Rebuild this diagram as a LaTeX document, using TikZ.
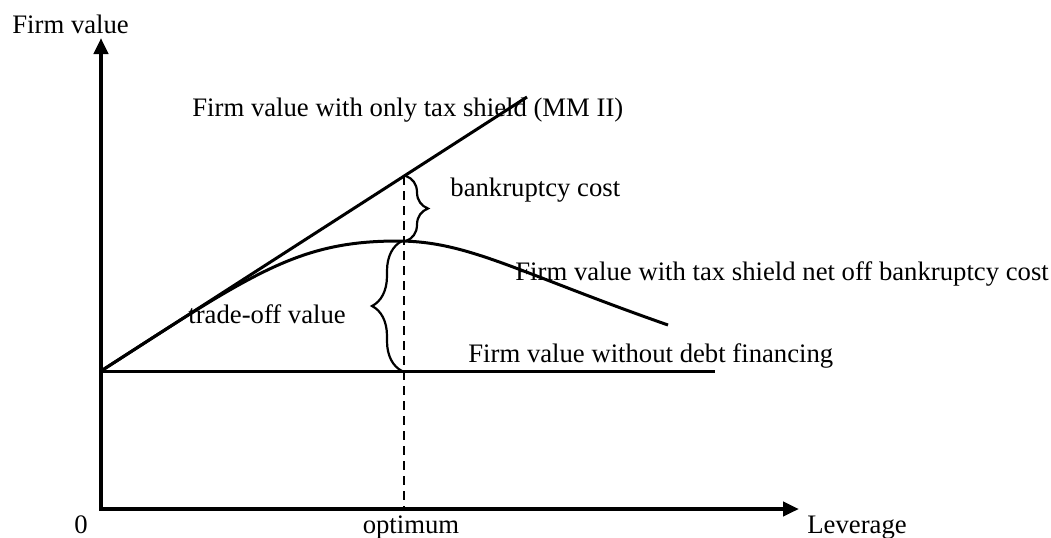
\documentclass[tikz,border=0pt]{standalone}
\usepackage{fontspec}
\setmainfont{Liberation Serif}
\usetikzlibrary{arrows.meta,decorations.pathreplacing}
\begin{document}
\begin{tikzpicture}[x=0.5pt,y=-0.5pt,
  lbl/.style={font=\fontsize{13.35}{16}\selectfont, inner sep=0pt, anchor=base west},
  axisline/.style={line width=2pt, {Triangle[length=8pt,width=7pt]}-{Triangle[length=8pt,width=7pt]}},
  plotline/.style={line width=1.5pt},
  brc/.style={line width=1.1pt, decorate, decoration={brace, amplitude=#1}},
  guide/.style={line width=1.2pt, dash pattern=on 4.5pt off 3pt}]
\path[use as bounding box] (0,0) rectangle (1051,537);
% coordinates
\coordinate (O) at (101,509);
\coordinate (Ytip) at (101,38);
\coordinate (Xtip) at (799,509);
\coordinate (B) at (101,371);
\coordinate (Bend) at (715,371);
\coordinate (Mend) at (527,97);
\coordinate (Peak) at (398,241);
\coordinate (Cend) at (668,325);
\coordinate (Dtop) at (404,176);
\coordinate (Dcurve) at (404,241);
\coordinate (Dbase) at (404,371);
\coordinate (Dbot) at (404,509);
% axes
\draw[axisline] (Ytip) -- (O) -- (Xtip);
% lines
\draw[plotline] (B) -- (Bend);
\draw[plotline] (B) -- (Mend);
\draw[plotline] (B) .. controls (253,273) and (298,241) .. (Peak)
                    .. controls (468,241) and (518,272.5) .. (Cend);
\draw[guide] (Dtop) -- (Dbot);
% braces
\draw[brc=11pt] ([xshift=1pt]Dtop) -- ([xshift=1pt]Dcurve);
\draw[brc=15pt] ([xshift=-1pt]Dbase) -- ([xshift=-1pt]Dcurve);
% labels
\node[lbl] (fv) at (12,33) {Firm value};
\node[lbl] (mm) at (192,116) {Firm value with only tax shield (MM II)};
\node[lbl] (bc) at (450,196) {bankruptcy cost};
\node[lbl] (net) at (515,280) {Firm value with tax shield net off bankruptcy cost};
\node[lbl] (to) at (188,323) {trade-off value};
\node[lbl] (wd) at (468,362) {Firm value without debt financing};
\node[lbl,anchor=base] (zero) at (81,533) {0};
\node[lbl,anchor=base] (opt) at (411,533) {optimum};
\node[lbl] (lev) at (807,533) {Leverage};
\end{tikzpicture}
\end{document}
